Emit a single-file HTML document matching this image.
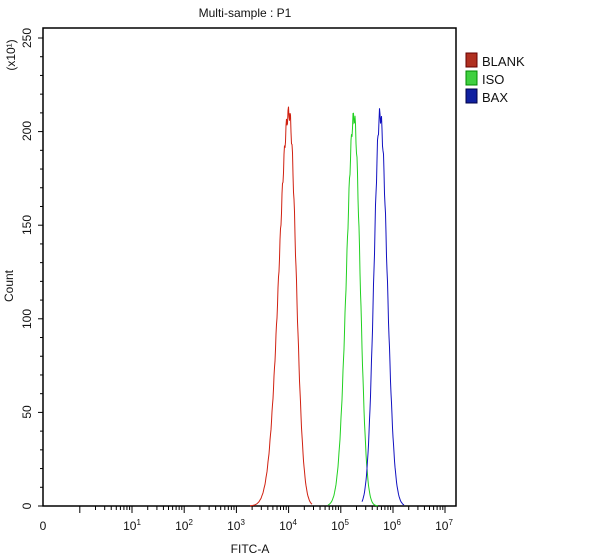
<!DOCTYPE html><html><head><style>body{margin:0;background:#fff}svg{display:block}text{font-family:"Liberation Sans",sans-serif;fill:#111}</style></head><body>
<svg id="s" width="600" height="558" xmlns="http://www.w3.org/2000/svg">
<rect x="43" y="28" width="413" height="478" fill="none" stroke="#000" stroke-width="1.5"/>
<text x="245" y="17" font-size="12" text-anchor="middle">Multi-sample : P1</text>
<text x="250" y="553" font-size="12" text-anchor="middle">FITC-A</text>
<text transform="translate(13,286) rotate(-90)" font-size="12" text-anchor="middle">Count</text>
<text transform="translate(15,55) rotate(-90)" font-size="12" text-anchor="middle">(x10¹)</text>
<g font-size="12" text-anchor="middle">
<text transform="translate(31,506) rotate(-90)">0</text>
<text transform="translate(31,412) rotate(-90)">50</text>
<text transform="translate(31,319) rotate(-90)">100</text>
<text transform="translate(31,225) rotate(-90)">150</text>
<text transform="translate(31,131) rotate(-90)">200</text>
<text transform="translate(31,38) rotate(-90)">250</text>
<text x="43" y="530">0</text>
<text x="132" y="530">10<tspan font-size="8" dy="-5">1</tspan></text>
<text x="184" y="530">10<tspan font-size="8" dy="-5">2</tspan></text>
<text x="236" y="530">10<tspan font-size="8" dy="-5">3</tspan></text>
<text x="288" y="530">10<tspan font-size="8" dy="-5">4</tspan></text>
<text x="340" y="530">10<tspan font-size="8" dy="-5">5</tspan></text>
<text x="392" y="530">10<tspan font-size="8" dy="-5">6</tspan></text>
<text x="444" y="530">10<tspan font-size="8" dy="-5">7</tspan></text>
</g>
<g id="ticks" stroke="#000" stroke-width="1"></g>
<rect x="466" y="53" width="11" height="14" fill="#b03020" stroke="#600"/>
<rect x="466" y="71" width="11" height="14" fill="#40d040" stroke="#080"/>
<rect x="466" y="89" width="11" height="14" fill="#1020a0" stroke="#004"/>
<g font-size="13"><text x="482" y="66">BLANK</text><text x="482" y="84">ISO</text><text x="482" y="102">BAX</text></g>
</svg>
<script>
var s=document.getElementById('s'),t=document.getElementById('ticks'),ns="http://www.w3.org/2000/svg";
function L(x1,y1,x2,y2){var l=document.createElementNS(ns,'line');l.setAttribute('x1',x1);l.setAttribute('y1',y1);l.setAttribute('x2',x2);l.setAttribute('y2',y2);t.appendChild(l);}
for(var i=0;i<=25;i++){var y=506-i*18.72;L(i%5==0?38:40,y,43,y);}
var D=52.2,x0=132-D;
for(var d=0;d<7;d++){for(var k=1;k<10;k++){var x=x0+d*D+Math.log10(k)*D;if(x<75)continue;L(x,506,x,k==1?513:510);}}
L(445,506,445,513);
function curve(c,sl,sr,h,col,lo,hi){var p="";for(var x=lo;x<=hi;x+=0.5){var s_=x<c?sl:sr;var v=h*Math.exp(-Math.pow(x-c,2)/(2*s_*s_));v+=Math.sin(x*3.1)*v*0.02;var y=506-v*1.872;p+=(p?"L":"M")+x.toFixed(1)+","+y.toFixed(1);}
var e=document.createElementNS(ns,'path');e.setAttribute('d',p);e.setAttribute('fill','none');e.setAttribute('stroke',col);e.setAttribute('stroke-width','1');s.appendChild(e);}
curve(289,10,7,210,'#d02010',250,312);
curve(354,7.5,6,208,'#20d020',328,378);
curve(380,6,7,209,'#1010c0',362,404);
</script>
</body></html>
